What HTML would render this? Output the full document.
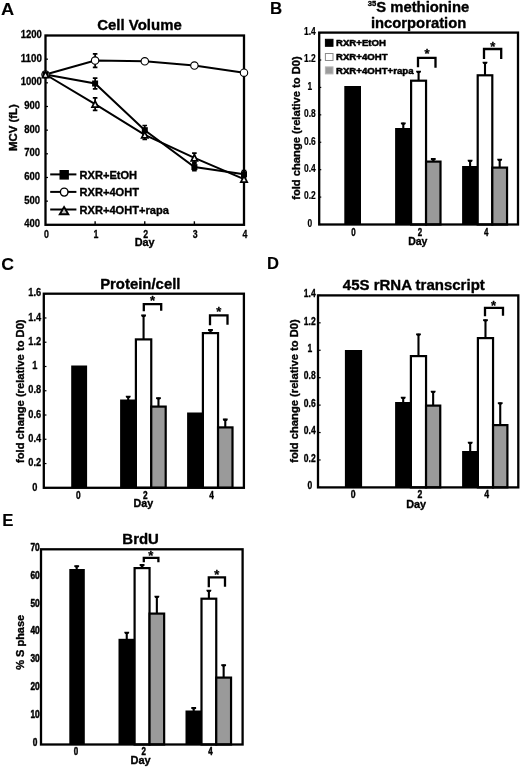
<!DOCTYPE html>
<html><head><meta charset="utf-8"><title>Figure</title>
<style>
html,body{margin:0;padding:0;background:#fff;}
svg{display:block;will-change:transform;transform:translateZ(0)}
text{fill:#000;stroke:#000;stroke-width:0.35px;stroke-linejoin:round}
.tk{stroke-width:0.15px}
</style></head><body>
<svg width="520" height="767" viewBox="0 0 520 767" font-family="'Liberation Sans', sans-serif" font-weight="bold">
<rect width="520" height="767" fill="#fff"/>
<text x="1.0" y="15" font-size="16.8" text-anchor="start" textLength="13.2" lengthAdjust="spacingAndGlyphs" style="stroke-width:0.1px">A</text>
<text x="269.9" y="13.6" font-size="16" text-anchor="start" textLength="12.2" lengthAdjust="spacingAndGlyphs" style="stroke-width:0.1px">B</text>
<text x="1.2" y="269.7" font-size="16.5" text-anchor="start" textLength="12.8" lengthAdjust="spacingAndGlyphs" style="stroke-width:0.1px">C</text>
<text x="266.9" y="268.7" font-size="15.8" text-anchor="start" textLength="12" lengthAdjust="spacingAndGlyphs" style="stroke-width:0.1px">D</text>
<text x="2.3" y="526.2" font-size="16.8" text-anchor="start" style="stroke-width:0.1px">E</text>
<rect x="45.5" y="35.5" width="198.5" height="189.3" fill="none" stroke="#000" stroke-width="2.3"/>
<text x="139.5" y="29.5" font-size="14.8" text-anchor="middle" textLength="84.5" lengthAdjust="spacingAndGlyphs" >Cell Volume</text>
<text x="32.2" y="227.29" font-size="10.8" text-anchor="middle" textLength="15.85" lengthAdjust="spacingAndGlyphs" style="stroke-width:0.3px">400</text>
<line x1="45.5" y1="224.8" x2="48.0" y2="224.8" stroke="#000" stroke-width="1.2"/>
<text x="32.2" y="203.63" font-size="10.8" text-anchor="middle" textLength="15.85" lengthAdjust="spacingAndGlyphs" style="stroke-width:0.3px">500</text>
<line x1="45.5" y1="201.13750000000002" x2="48.0" y2="201.13750000000002" stroke="#000" stroke-width="1.2"/>
<text x="32.2" y="179.96" font-size="10.8" text-anchor="middle" textLength="15.85" lengthAdjust="spacingAndGlyphs" style="stroke-width:0.3px">600</text>
<line x1="45.5" y1="177.47500000000002" x2="48.0" y2="177.47500000000002" stroke="#000" stroke-width="1.2"/>
<text x="32.2" y="156.3" font-size="10.8" text-anchor="middle" textLength="15.85" lengthAdjust="spacingAndGlyphs" style="stroke-width:0.3px">700</text>
<line x1="45.5" y1="153.8125" x2="48.0" y2="153.8125" stroke="#000" stroke-width="1.2"/>
<text x="32.2" y="132.64" font-size="10.8" text-anchor="middle" textLength="15.85" lengthAdjust="spacingAndGlyphs" style="stroke-width:0.3px">800</text>
<line x1="45.5" y1="130.15" x2="48.0" y2="130.15" stroke="#000" stroke-width="1.2"/>
<text x="32.2" y="108.98" font-size="10.8" text-anchor="middle" textLength="15.85" lengthAdjust="spacingAndGlyphs" style="stroke-width:0.3px">900</text>
<line x1="45.5" y1="106.48750000000001" x2="48.0" y2="106.48750000000001" stroke="#000" stroke-width="1.2"/>
<text x="31.3" y="85.31" font-size="10.8" text-anchor="middle" textLength="21.14" lengthAdjust="spacingAndGlyphs" style="stroke-width:0.3px">1000</text>
<line x1="45.5" y1="82.82500000000002" x2="48.0" y2="82.82500000000002" stroke="#000" stroke-width="1.2"/>
<text x="31.3" y="61.65" font-size="10.8" text-anchor="middle" textLength="21.14" lengthAdjust="spacingAndGlyphs" style="stroke-width:0.3px">1100</text>
<line x1="45.5" y1="59.16250000000002" x2="48.0" y2="59.16250000000002" stroke="#000" stroke-width="1.2"/>
<text x="31.3" y="37.99" font-size="10.8" text-anchor="middle" textLength="21.14" lengthAdjust="spacingAndGlyphs" style="stroke-width:0.3px">1200</text>
<line x1="45.5" y1="35.5" x2="48.0" y2="35.5" stroke="#000" stroke-width="1.2"/>
<text x="46.4" y="237.5" font-size="10.8" text-anchor="middle" textLength="4.9" lengthAdjust="spacingAndGlyphs" style="stroke-width:0.3px">0</text>
<text x="96.025" y="237.5" font-size="10.8" text-anchor="middle" textLength="4.9" lengthAdjust="spacingAndGlyphs" style="stroke-width:0.3px">1</text>
<line x1="95.125" y1="224.8" x2="95.125" y2="221.3" stroke="#000" stroke-width="1.4"/>
<text x="145.65" y="237.5" font-size="10.8" text-anchor="middle" textLength="4.9" lengthAdjust="spacingAndGlyphs" style="stroke-width:0.3px">2</text>
<line x1="144.75" y1="224.8" x2="144.75" y2="221.3" stroke="#000" stroke-width="1.4"/>
<text x="195.275" y="237.5" font-size="10.8" text-anchor="middle" textLength="4.9" lengthAdjust="spacingAndGlyphs" style="stroke-width:0.3px">3</text>
<line x1="194.375" y1="224.8" x2="194.375" y2="221.3" stroke="#000" stroke-width="1.4"/>
<text x="244.9" y="237.5" font-size="10.8" text-anchor="middle" textLength="4.9" lengthAdjust="spacingAndGlyphs" style="stroke-width:0.3px">4</text>
<text x="144.7" y="246.2" font-size="10.9" text-anchor="middle" >Day</text>
<text x="17.5" y="127.6" font-size="11.4" text-anchor="middle" transform="rotate(-90 17.5 127.6)" >MCV (fL)</text>
<polyline points="45.5,74.5 95.1,83.5 144.8,130.2 194.4,167.1 244.0,174.2" fill="none" stroke="#000" stroke-width="2"/>
<path d="M95.125 77.6 V89.5 M92.825 78.2 H97.425 M92.825 88.9 H97.425" stroke="#000" stroke-width="1.7" fill="none"/>
<path d="M144.75 124.9 V135.4 M142.45 125.5 H147.05 M142.45 134.8 H147.05" stroke="#000" stroke-width="1.7" fill="none"/>
<path d="M194.375 162.8 V171.3 M192.075 163.4 H196.675 M192.075 170.7 H196.675" stroke="#000" stroke-width="1.7" fill="none"/>
<path d="M244.0 169.9 V178.4 M241.7 170.5 H246.3 M241.7 177.8 H246.3" stroke="#000" stroke-width="1.7" fill="none"/>
<polyline points="45.5,74.5 95.1,60.6 144.8,61.3 194.4,65.6 244.0,72.7" fill="none" stroke="#000" stroke-width="2"/>
<path d="M95.125 53.2 V67.9 M92.825 53.8 H97.425 M92.825 67.3 H97.425" stroke="#000" stroke-width="1.7" fill="none"/>
<polyline points="45.5,74.5 95.1,104.1 144.8,134.9 194.4,157.8 244.0,179.1" fill="none" stroke="#000" stroke-width="2"/>
<path d="M95.125 97.3 V111.0 M92.825 97.9 H97.425 M92.825 110.4 H97.425" stroke="#000" stroke-width="1.7" fill="none"/>
<path d="M144.75 129.7 V140.1 M142.45 130.3 H147.05 M142.45 139.5 H147.05" stroke="#000" stroke-width="1.7" fill="none"/>
<path d="M194.375 152.6 V163.0 M192.075 153.2 H196.675 M192.075 162.4 H196.675" stroke="#000" stroke-width="1.7" fill="none"/>
<circle cx="45.5" cy="74.5" r="3.7" fill="#fff" stroke="#000" stroke-width="1.1"/>
<circle cx="95.1" cy="60.6" r="3.7" fill="#fff" stroke="#000" stroke-width="1.1"/>
<circle cx="144.8" cy="61.3" r="3.7" fill="#fff" stroke="#000" stroke-width="1.1"/>
<circle cx="194.4" cy="65.6" r="3.7" fill="#fff" stroke="#000" stroke-width="1.1"/>
<circle cx="244.0" cy="72.7" r="3.7" fill="#fff" stroke="#000" stroke-width="1.1"/>
<rect x="42.5" y="71.5" width="6.0" height="6.0" fill="#000"/>
<rect x="92.1" y="80.5" width="6.0" height="6.0" fill="#000"/>
<rect x="141.8" y="127.2" width="6.0" height="6.0" fill="#000"/>
<rect x="191.4" y="164.1" width="6.0" height="6.0" fill="#000"/>
<rect x="241.0" y="171.2" width="6.0" height="6.0" fill="#000"/>
<path d="M45.5 71.4 L48.6 77.6 H42.4 Z" fill="#f4f4f4" stroke="#000" stroke-width="1.7" stroke-linejoin="miter"/>
<path d="M95.1 101.0 L98.3 107.1 H92.0 Z" fill="#f4f4f4" stroke="#000" stroke-width="1.7" stroke-linejoin="miter"/>
<path d="M144.8 131.8 L147.9 137.9 H141.6 Z" fill="#f4f4f4" stroke="#000" stroke-width="1.7" stroke-linejoin="miter"/>
<path d="M194.4 154.7 L197.5 160.9 H191.2 Z" fill="#f4f4f4" stroke="#000" stroke-width="1.7" stroke-linejoin="miter"/>
<path d="M244.0 176.0 L247.2 182.2 H240.8 Z" fill="#f4f4f4" stroke="#000" stroke-width="1.7" stroke-linejoin="miter"/>
<line x1="50.2" y1="174.4" x2="76.4" y2="174.4" stroke="#000" stroke-width="2"/>
<rect x="59.5" y="170" width="9.4" height="9.6" fill="#000"/>
<text x="79.5" y="179.3" font-size="11.1" text-anchor="start" >RXR+EtOH</text>
<line x1="50.2" y1="191.9" x2="76.4" y2="191.9" stroke="#000" stroke-width="2"/>
<ellipse cx="64.2" cy="192.1" rx="3.8" ry="4.0" fill="#fff" stroke="#000" stroke-width="1.4"/>
<text x="79.5" y="196.3" font-size="11.1" text-anchor="start" >RXR+4OHT</text>
<line x1="50.2" y1="209.5" x2="76.4" y2="209.5" stroke="#000" stroke-width="2"/>
<path d="M64.05 207 L68.3 214.2 H59.8 Z" fill="#c4c4c4" stroke="#000" stroke-width="1.9" stroke-linejoin="miter"/>
<text x="79.5" y="214.0" font-size="11.1" text-anchor="start" >RXR+4OHT+rapa</text>
<text x="367.8" y="12.2" font-size="14.8"><tspan font-size="7.6" dy="-6">35</tspan><tspan dy="6" textLength="93" lengthAdjust="spacingAndGlyphs">S methionine</tspan></text>
<rect x="344.30" y="86.00" width="16.70" height="138.50" fill="#000"/>
<line x1="403.30" y1="129" x2="403.30" y2="122.60" stroke="#000" stroke-width="2.1"/>
<path d="M400.90 122.40 H405.70 V123.70 L404.80 124.70 H401.80 L400.90 123.70 Z" fill="#000"/>
<rect x="395.10" y="128.00" width="17.10" height="96.50" fill="#000"/>
<line x1="418.58" y1="80.6" x2="418.58" y2="71.00" stroke="#000" stroke-width="2.1"/>
<path d="M416.18 70.80 H420.98 V72.10 L420.08 73.10 H417.08 L416.18 72.10 Z" fill="#000"/>
<rect x="411.10" y="80.70" width="14.95" height="143.80" fill="#fff" stroke="#000" stroke-width="2.2"/>
<line x1="433.27" y1="161.5" x2="433.27" y2="158.30" stroke="#000" stroke-width="2.1"/>
<path d="M430.88 158.10 H435.67 V159.40 L434.77 160.40 H431.77 L430.88 159.40 Z" fill="#000"/>
<rect x="426.05" y="161.60" width="14.45" height="62.90" fill="#9a9a9a" stroke="#000" stroke-width="2.2"/>
<line x1="470.10" y1="167" x2="470.10" y2="160.00" stroke="#000" stroke-width="2.1"/>
<path d="M467.70 159.80 H472.50 V161.10 L471.60 162.10 H468.60 L467.70 161.10 Z" fill="#000"/>
<rect x="462.10" y="166.00" width="16.70" height="58.50" fill="#000"/>
<line x1="485.00" y1="75.2" x2="485.00" y2="62.00" stroke="#000" stroke-width="2.1"/>
<path d="M482.60 61.80 H487.40 V63.10 L486.50 64.10 H483.50 L482.60 63.10 Z" fill="#000"/>
<rect x="477.70" y="75.30" width="14.60" height="149.20" fill="#fff" stroke="#000" stroke-width="2.2"/>
<line x1="499.68" y1="167.5" x2="499.68" y2="159.00" stroke="#000" stroke-width="2.1"/>
<path d="M497.28 158.80 H502.07 V160.10 L501.18 161.10 H498.18 L497.28 160.10 Z" fill="#000"/>
<rect x="492.30" y="167.60" width="14.75" height="56.90" fill="#9a9a9a" stroke="#000" stroke-width="2.2"/>
<rect x="319.2" y="32.6" width="198.8" height="191.9" fill="none" stroke="#000" stroke-width="2.3"/>
<text x="309.8" y="226.8" font-size="10" text-anchor="middle" textLength="4.67" lengthAdjust="spacingAndGlyphs" style="stroke-width:0.2px">0</text>
<line x1="319.2" y1="224.50" x2="321.24999999999994" y2="224.50" stroke="#000" stroke-width="1.2"/>
<text x="309.8" y="199.39" font-size="10" text-anchor="middle" textLength="11.68" lengthAdjust="spacingAndGlyphs" style="stroke-width:0.2px">0.2</text>
<line x1="319.2" y1="197.09" x2="321.24999999999994" y2="197.09" stroke="#000" stroke-width="1.2"/>
<text x="309.8" y="171.97" font-size="10" text-anchor="middle" textLength="11.68" lengthAdjust="spacingAndGlyphs" style="stroke-width:0.2px">0.4</text>
<line x1="319.2" y1="169.67" x2="321.24999999999994" y2="169.67" stroke="#000" stroke-width="1.2"/>
<text x="309.8" y="144.56" font-size="10" text-anchor="middle" textLength="11.68" lengthAdjust="spacingAndGlyphs" style="stroke-width:0.2px">0.6</text>
<line x1="319.2" y1="142.26" x2="321.24999999999994" y2="142.26" stroke="#000" stroke-width="1.2"/>
<text x="309.8" y="117.14" font-size="10" text-anchor="middle" textLength="11.68" lengthAdjust="spacingAndGlyphs" style="stroke-width:0.2px">0.8</text>
<line x1="319.2" y1="114.84" x2="321.24999999999994" y2="114.84" stroke="#000" stroke-width="1.2"/>
<text x="309.8" y="89.73" font-size="10" text-anchor="middle" textLength="4.67" lengthAdjust="spacingAndGlyphs" style="stroke-width:0.2px">1</text>
<line x1="319.2" y1="87.43" x2="321.24999999999994" y2="87.43" stroke="#000" stroke-width="1.2"/>
<text x="309.8" y="62.31" font-size="10" text-anchor="middle" textLength="11.68" lengthAdjust="spacingAndGlyphs" style="stroke-width:0.2px">1.2</text>
<line x1="319.2" y1="60.01" x2="321.24999999999994" y2="60.01" stroke="#000" stroke-width="1.2"/>
<text x="309.8" y="34.9" font-size="10" text-anchor="middle" textLength="11.68" lengthAdjust="spacingAndGlyphs" style="stroke-width:0.2px">1.4</text>
<line x1="319.2" y1="32.60" x2="321.24999999999994" y2="32.60" stroke="#000" stroke-width="1.2"/>
<text x="418.6" y="28.2" font-size="14.8" text-anchor="middle" textLength="95.3" lengthAdjust="spacingAndGlyphs" >incorporation</text>
<text x="300" y="128" font-size="11.2" text-anchor="middle" transform="rotate(-90 300 128)" >fold change (relative to D0)</text>
<path d="M418 67.3 V57.8 H435.5 V67.8" fill="none" stroke="#000" stroke-width="2.3"/>
<text x="427" y="58.4" font-size="13" text-anchor="middle" style="stroke-width:0.3px">*</text>
<path d="M484 59.099999999999994 V49.0 H501.2 V59.0" fill="none" stroke="#000" stroke-width="2.3"/>
<text x="492.7" y="50.699999999999996" font-size="13" text-anchor="middle" style="stroke-width:0.3px">*</text>
<text x="353.4" y="235.7" font-size="10.2" text-anchor="middle" textLength="4.42" lengthAdjust="spacingAndGlyphs" style="stroke-width:0.4px">0</text>
<text x="420" y="235.7" font-size="10.2" text-anchor="middle" textLength="4.42" lengthAdjust="spacingAndGlyphs" style="stroke-width:0.4px">2</text>
<text x="486.3" y="235.7" font-size="10.2" text-anchor="middle" textLength="4.42" lengthAdjust="spacingAndGlyphs" style="stroke-width:0.4px">4</text>
<text x="417.8" y="244.8" font-size="10.5" text-anchor="middle" >Day</text>
<rect x="325.4" y="39.3" width="7.6" height="7" fill="#000" stroke="#000" stroke-width="1"/>
<text x="336" y="46.199999999999996" font-size="9.65" text-anchor="start" style="stroke-width:0.5px">RXR+EtOH</text>
<rect x="325.4" y="53.5" width="7.6" height="7" fill="#fff" stroke="#8a8a8a" stroke-width="1"/>
<text x="336" y="60.4" font-size="9.65" text-anchor="start" style="stroke-width:0.5px">RXR+4OHT</text>
<rect x="325.4" y="66.9" width="7.6" height="7" fill="#9c9c9c" stroke="#b4b4b4" stroke-width="1"/>
<text x="336" y="73.80000000000001" font-size="9.65" text-anchor="start" style="stroke-width:0.5px">RXR+4OHT+rapa</text>
<rect x="71.20" y="365.50" width="15.90" height="122.30" fill="#000"/>
<line x1="128.20" y1="400.5" x2="128.20" y2="396.00" stroke="#000" stroke-width="2.1"/>
<path d="M125.80 395.80 H130.60 V397.10 L129.70 398.10 H126.70 L125.80 397.10 Z" fill="#000"/>
<rect x="120.10" y="399.50" width="16.90" height="88.30" fill="#000"/>
<line x1="143.57" y1="339.3" x2="143.57" y2="314.80" stroke="#000" stroke-width="2.1"/>
<path d="M141.17 314.60 H145.97 V315.90 L145.07 316.90 H142.07 L141.17 315.90 Z" fill="#000"/>
<rect x="135.90" y="339.40" width="15.35" height="148.40" fill="#fff" stroke="#000" stroke-width="2.2"/>
<line x1="158.47" y1="406.5" x2="158.47" y2="397.50" stroke="#000" stroke-width="2.1"/>
<path d="M156.07 397.30 H160.88 V398.60 L159.97 399.60 H156.97 L156.07 398.60 Z" fill="#000"/>
<rect x="151.25" y="406.60" width="14.45" height="81.20" fill="#9a9a9a" stroke="#000" stroke-width="2.2"/>
<rect x="187.10" y="412.50" width="16.90" height="75.30" fill="#000"/>
<line x1="210.48" y1="333" x2="210.48" y2="329.30" stroke="#000" stroke-width="2.1"/>
<path d="M208.08 329.10 H212.88 V330.40 L211.98 331.40 H208.98 L208.08 330.40 Z" fill="#000"/>
<rect x="202.90" y="333.10" width="15.15" height="154.70" fill="#fff" stroke="#000" stroke-width="2.2"/>
<line x1="225.28" y1="427.3" x2="225.28" y2="418.80" stroke="#000" stroke-width="2.1"/>
<path d="M222.88 418.60 H227.68 V419.90 L226.78 420.90 H223.78 L222.88 419.90 Z" fill="#000"/>
<rect x="218.05" y="427.40" width="14.45" height="60.40" fill="#9a9a9a" stroke="#000" stroke-width="2.2"/>
<rect x="43.8" y="293.7" width="200.10000000000002" height="194.10000000000002" fill="none" stroke="#000" stroke-width="2.3"/>
<text x="34.8" y="490.51" font-size="10.3" text-anchor="middle" textLength="5.15" lengthAdjust="spacingAndGlyphs" style="stroke-width:0.3px">0</text>
<line x1="43.8" y1="487.80" x2="46.449999999999996" y2="487.80" stroke="#000" stroke-width="1.2"/>
<text x="34.8" y="466.25" font-size="10.3" text-anchor="middle" textLength="12.89" lengthAdjust="spacingAndGlyphs" style="stroke-width:0.3px">0.2</text>
<line x1="43.8" y1="463.54" x2="46.449999999999996" y2="463.54" stroke="#000" stroke-width="1.2"/>
<text x="34.8" y="441.98" font-size="10.3" text-anchor="middle" textLength="12.89" lengthAdjust="spacingAndGlyphs" style="stroke-width:0.3px">0.4</text>
<line x1="43.8" y1="439.27" x2="46.449999999999996" y2="439.27" stroke="#000" stroke-width="1.2"/>
<text x="34.8" y="417.72" font-size="10.3" text-anchor="middle" textLength="12.89" lengthAdjust="spacingAndGlyphs" style="stroke-width:0.3px">0.6</text>
<line x1="43.8" y1="415.01" x2="46.449999999999996" y2="415.01" stroke="#000" stroke-width="1.2"/>
<text x="34.8" y="393.46" font-size="10.3" text-anchor="middle" textLength="12.89" lengthAdjust="spacingAndGlyphs" style="stroke-width:0.3px">0.8</text>
<line x1="43.8" y1="390.75" x2="46.449999999999996" y2="390.75" stroke="#000" stroke-width="1.2"/>
<text x="34.8" y="369.2" font-size="10.3" text-anchor="middle" textLength="5.15" lengthAdjust="spacingAndGlyphs" style="stroke-width:0.3px">1</text>
<line x1="43.8" y1="366.49" x2="46.449999999999996" y2="366.49" stroke="#000" stroke-width="1.2"/>
<text x="34.8" y="344.93" font-size="10.3" text-anchor="middle" textLength="12.89" lengthAdjust="spacingAndGlyphs" style="stroke-width:0.3px">1.2</text>
<line x1="43.8" y1="342.23" x2="46.449999999999996" y2="342.23" stroke="#000" stroke-width="1.2"/>
<text x="34.8" y="320.67" font-size="10.3" text-anchor="middle" textLength="12.89" lengthAdjust="spacingAndGlyphs" style="stroke-width:0.3px">1.4</text>
<line x1="43.8" y1="317.96" x2="46.449999999999996" y2="317.96" stroke="#000" stroke-width="1.2"/>
<text x="34.8" y="296.41" font-size="10.3" text-anchor="middle" textLength="12.89" lengthAdjust="spacingAndGlyphs" style="stroke-width:0.3px">1.6</text>
<line x1="43.8" y1="293.70" x2="46.449999999999996" y2="293.70" stroke="#000" stroke-width="1.2"/>
<text x="140.3" y="288.8" font-size="14.8" text-anchor="middle" textLength="80.3" lengthAdjust="spacingAndGlyphs" >Protein/cell</text>
<text x="24" y="391.2" font-size="11.2" text-anchor="middle" transform="rotate(-90 24 391.2)" >fold change (relative to D0)</text>
<path d="M143.8 311.3 V304.1 H161.2 V310.8" fill="none" stroke="#000" stroke-width="2.3"/>
<text x="152.5" y="305.0" font-size="13" text-anchor="middle" style="stroke-width:0.3px">*</text>
<path d="M210 325.3 V315.3 H227.5 V324.8" fill="none" stroke="#000" stroke-width="2.3"/>
<text x="218.8" y="315.9" font-size="13" text-anchor="middle" style="stroke-width:0.3px">*</text>
<text x="78.4" y="498.6" font-size="10.4" text-anchor="middle" textLength="4.63" lengthAdjust="spacingAndGlyphs" style="stroke-width:0.4px">0</text>
<text x="145.3" y="498.6" font-size="10.4" text-anchor="middle" textLength="4.63" lengthAdjust="spacingAndGlyphs" style="stroke-width:0.4px">2</text>
<text x="211.6" y="498.6" font-size="10.4" text-anchor="middle" textLength="4.63" lengthAdjust="spacingAndGlyphs" style="stroke-width:0.4px">4</text>
<text x="143.4" y="507" font-size="10.7" text-anchor="middle" >Day</text>
<rect x="344.90" y="350.00" width="17.20" height="137.40" fill="#000"/>
<line x1="403.20" y1="403" x2="403.20" y2="397.00" stroke="#000" stroke-width="2.1"/>
<path d="M400.80 396.80 H405.60 V398.10 L404.70 399.10 H401.70 L400.80 398.10 Z" fill="#000"/>
<rect x="395.10" y="402.00" width="16.90" height="85.40" fill="#000"/>
<line x1="418.48" y1="356" x2="418.48" y2="333.60" stroke="#000" stroke-width="2.1"/>
<path d="M416.08 333.40 H420.88 V334.70 L419.98 335.70 H416.98 L416.08 334.70 Z" fill="#000"/>
<rect x="410.90" y="356.10" width="15.15" height="131.30" fill="#fff" stroke="#000" stroke-width="2.2"/>
<line x1="433.15" y1="405.5" x2="433.15" y2="391.00" stroke="#000" stroke-width="2.1"/>
<path d="M430.75 390.80 H435.55 V392.10 L434.65 393.10 H431.65 L430.75 392.10 Z" fill="#000"/>
<rect x="426.05" y="405.60" width="14.20" height="81.80" fill="#9a9a9a" stroke="#000" stroke-width="2.2"/>
<line x1="470.20" y1="452" x2="470.20" y2="442.00" stroke="#000" stroke-width="2.1"/>
<path d="M467.80 441.80 H472.60 V443.10 L471.70 444.10 H468.70 L467.80 443.10 Z" fill="#000"/>
<rect x="462.10" y="451.00" width="16.90" height="36.40" fill="#000"/>
<line x1="485.48" y1="338" x2="485.48" y2="319.40" stroke="#000" stroke-width="2.1"/>
<path d="M483.08 319.20 H487.88 V320.50 L486.98 321.50 H483.98 L483.08 320.50 Z" fill="#000"/>
<rect x="477.90" y="338.10" width="15.15" height="149.30" fill="#fff" stroke="#000" stroke-width="2.2"/>
<line x1="500.23" y1="425" x2="500.23" y2="402.50" stroke="#000" stroke-width="2.1"/>
<path d="M497.83 402.30 H502.62 V403.60 L501.73 404.60 H498.73 L497.83 403.60 Z" fill="#000"/>
<rect x="493.05" y="425.10" width="14.35" height="62.30" fill="#9a9a9a" stroke="#000" stroke-width="2.2"/>
<rect x="318" y="295.4" width="200.29999999999995" height="192.0" fill="none" stroke="#000" stroke-width="2.3"/>
<text x="309.8" y="489.19" font-size="10.8" text-anchor="middle" textLength="4.74" lengthAdjust="spacingAndGlyphs" style="stroke-width:0.35px">0</text>
<line x1="318" y1="487.40" x2="320.65" y2="487.40" stroke="#000" stroke-width="1.2"/>
<text x="309.8" y="461.76" font-size="10.8" text-anchor="middle" textLength="11.86" lengthAdjust="spacingAndGlyphs" style="stroke-width:0.35px">0.2</text>
<line x1="318" y1="459.97" x2="320.65" y2="459.97" stroke="#000" stroke-width="1.2"/>
<text x="309.8" y="434.33" font-size="10.8" text-anchor="middle" textLength="11.86" lengthAdjust="spacingAndGlyphs" style="stroke-width:0.35px">0.4</text>
<line x1="318" y1="432.54" x2="320.65" y2="432.54" stroke="#000" stroke-width="1.2"/>
<text x="309.8" y="406.9" font-size="10.8" text-anchor="middle" textLength="11.86" lengthAdjust="spacingAndGlyphs" style="stroke-width:0.35px">0.6</text>
<line x1="318" y1="405.11" x2="320.65" y2="405.11" stroke="#000" stroke-width="1.2"/>
<text x="309.8" y="379.47" font-size="10.8" text-anchor="middle" textLength="11.86" lengthAdjust="spacingAndGlyphs" style="stroke-width:0.35px">0.8</text>
<line x1="318" y1="377.69" x2="320.65" y2="377.69" stroke="#000" stroke-width="1.2"/>
<text x="309.8" y="352.05" font-size="10.8" text-anchor="middle" textLength="4.74" lengthAdjust="spacingAndGlyphs" style="stroke-width:0.35px">1</text>
<line x1="318" y1="350.26" x2="320.65" y2="350.26" stroke="#000" stroke-width="1.2"/>
<text x="309.8" y="324.62" font-size="10.8" text-anchor="middle" textLength="11.86" lengthAdjust="spacingAndGlyphs" style="stroke-width:0.35px">1.2</text>
<line x1="318" y1="322.83" x2="320.65" y2="322.83" stroke="#000" stroke-width="1.2"/>
<text x="309.8" y="297.19" font-size="10.8" text-anchor="middle" textLength="11.86" lengthAdjust="spacingAndGlyphs" style="stroke-width:0.35px">1.4</text>
<line x1="318" y1="295.40" x2="320.65" y2="295.40" stroke="#000" stroke-width="1.2"/>
<text x="413.8" y="289.8" font-size="14.8" text-anchor="middle" textLength="142" lengthAdjust="spacingAndGlyphs" >45S rRNA transcript</text>
<text x="297.5" y="391" font-size="11.2" text-anchor="middle" transform="rotate(-90 297.5 391)" >fold change (relative to D0)</text>
<path d="M485 316.3 V307.90000000000003 H503 V315.8" fill="none" stroke="#000" stroke-width="2.3"/>
<text x="493.6" y="309.7" font-size="13" text-anchor="middle" style="stroke-width:0.3px">*</text>
<text x="353.1" y="498.3" font-size="10.2" text-anchor="middle" textLength="4.82" lengthAdjust="spacingAndGlyphs" style="stroke-width:0.4px">0</text>
<text x="419.8" y="498.3" font-size="10.2" text-anchor="middle" textLength="4.82" lengthAdjust="spacingAndGlyphs" style="stroke-width:0.4px">2</text>
<text x="486.6" y="498.3" font-size="10.2" text-anchor="middle" textLength="4.82" lengthAdjust="spacingAndGlyphs" style="stroke-width:0.4px">4</text>
<text x="416.2" y="508.4" font-size="10.9" text-anchor="middle" >Day</text>
<line x1="76.70" y1="570" x2="76.70" y2="565.50" stroke="#000" stroke-width="2.1"/>
<path d="M74.30 565.30 H79.10 V566.60 L78.20 567.60 H75.20 L74.30 566.60 Z" fill="#000"/>
<rect x="69.30" y="569.00" width="15.50" height="175.50" fill="#000"/>
<line x1="126.75" y1="639.8" x2="126.75" y2="632.00" stroke="#000" stroke-width="2.1"/>
<path d="M124.35 631.80 H129.15 V633.10 L128.25 634.10 H125.25 L124.35 633.10 Z" fill="#000"/>
<rect x="118.50" y="638.80" width="17.20" height="105.70" fill="#000"/>
<line x1="142.07" y1="568" x2="142.07" y2="564.30" stroke="#000" stroke-width="2.1"/>
<path d="M139.67 564.10 H144.47 V565.40 L143.57 566.40 H140.57 L139.67 565.40 Z" fill="#000"/>
<rect x="134.60" y="568.10" width="14.95" height="176.40" fill="#fff" stroke="#000" stroke-width="2.2"/>
<line x1="156.85" y1="613.5" x2="156.85" y2="596.00" stroke="#000" stroke-width="2.1"/>
<path d="M154.45 595.80 H159.25 V597.10 L158.35 598.10 H155.35 L154.45 597.10 Z" fill="#000"/>
<rect x="149.55" y="613.60" width="14.60" height="130.90" fill="#9a9a9a" stroke="#000" stroke-width="2.2"/>
<line x1="193.70" y1="711.5" x2="193.70" y2="707.20" stroke="#000" stroke-width="2.1"/>
<path d="M191.30 707.00 H196.10 V708.30 L195.20 709.30 H192.20 L191.30 708.30 Z" fill="#000"/>
<rect x="185.50" y="710.50" width="17.10" height="34.00" fill="#000"/>
<line x1="208.88" y1="598.6" x2="208.88" y2="590.00" stroke="#000" stroke-width="2.1"/>
<path d="M206.47 589.80 H211.28 V591.10 L210.38 592.10 H207.38 L206.47 591.10 Z" fill="#000"/>
<rect x="201.50" y="598.70" width="14.75" height="145.80" fill="#fff" stroke="#000" stroke-width="2.2"/>
<line x1="223.65" y1="677.5" x2="223.65" y2="664.50" stroke="#000" stroke-width="2.1"/>
<path d="M221.25 664.30 H226.05 V665.60 L225.15 666.60 H222.15 L221.25 665.60 Z" fill="#000"/>
<rect x="216.25" y="677.60" width="14.80" height="66.90" fill="#9a9a9a" stroke="#000" stroke-width="2.2"/>
<rect x="41.0" y="549.3" width="201.6" height="195.20000000000005" fill="none" stroke="#000" stroke-width="2.3"/>
<text x="35.1" y="745.94" font-size="10.4" text-anchor="middle" textLength="4.63" lengthAdjust="spacingAndGlyphs" style="stroke-width:0.5px">0</text>
<text x="35.1" y="718.06" font-size="10.4" text-anchor="middle" textLength="9.25" lengthAdjust="spacingAndGlyphs" style="stroke-width:0.5px">10</text>
<text x="35.1" y="690.17" font-size="10.4" text-anchor="middle" textLength="9.25" lengthAdjust="spacingAndGlyphs" style="stroke-width:0.5px">20</text>
<text x="35.1" y="662.29" font-size="10.4" text-anchor="middle" textLength="9.25" lengthAdjust="spacingAndGlyphs" style="stroke-width:0.5px">30</text>
<text x="35.1" y="634.4" font-size="10.4" text-anchor="middle" textLength="9.25" lengthAdjust="spacingAndGlyphs" style="stroke-width:0.5px">40</text>
<text x="35.1" y="606.52" font-size="10.4" text-anchor="middle" textLength="9.25" lengthAdjust="spacingAndGlyphs" style="stroke-width:0.5px">50</text>
<text x="35.1" y="578.63" font-size="10.4" text-anchor="middle" textLength="9.25" lengthAdjust="spacingAndGlyphs" style="stroke-width:0.5px">60</text>
<text x="35.1" y="550.74" font-size="10.4" text-anchor="middle" textLength="9.25" lengthAdjust="spacingAndGlyphs" style="stroke-width:0.5px">70</text>
<text x="140.6" y="544.3" font-size="14.8" text-anchor="middle" textLength="36.5" lengthAdjust="spacingAndGlyphs" >BrdU</text>
<text x="24" y="642.3" font-size="11.0" text-anchor="middle" transform="rotate(-90 24 642.3)" >% S phase</text>
<path d="M143.8 562.3 V557.9 H158.4 V562.3" fill="none" stroke="#000" stroke-width="2.3"/>
<text x="150.8" y="560.4" font-size="13" text-anchor="middle" style="stroke-width:0.3px">*</text>
<path d="M208.8 587.3 V577.3 H225 V586.8" fill="none" stroke="#000" stroke-width="2.3"/>
<text x="216.8" y="579.0" font-size="13" text-anchor="middle" style="stroke-width:0.3px">*</text>
<text x="76" y="755" font-size="10.2" text-anchor="middle" textLength="4.42" lengthAdjust="spacingAndGlyphs" style="stroke-width:0.5px">0</text>
<text x="143.6" y="755" font-size="10.2" text-anchor="middle" textLength="4.42" lengthAdjust="spacingAndGlyphs" style="stroke-width:0.5px">2</text>
<text x="210.5" y="755" font-size="10.2" text-anchor="middle" textLength="4.42" lengthAdjust="spacingAndGlyphs" style="stroke-width:0.5px">4</text>
<text x="140.6" y="764.1" font-size="11" text-anchor="middle" >Day</text>
</svg></body></html>
